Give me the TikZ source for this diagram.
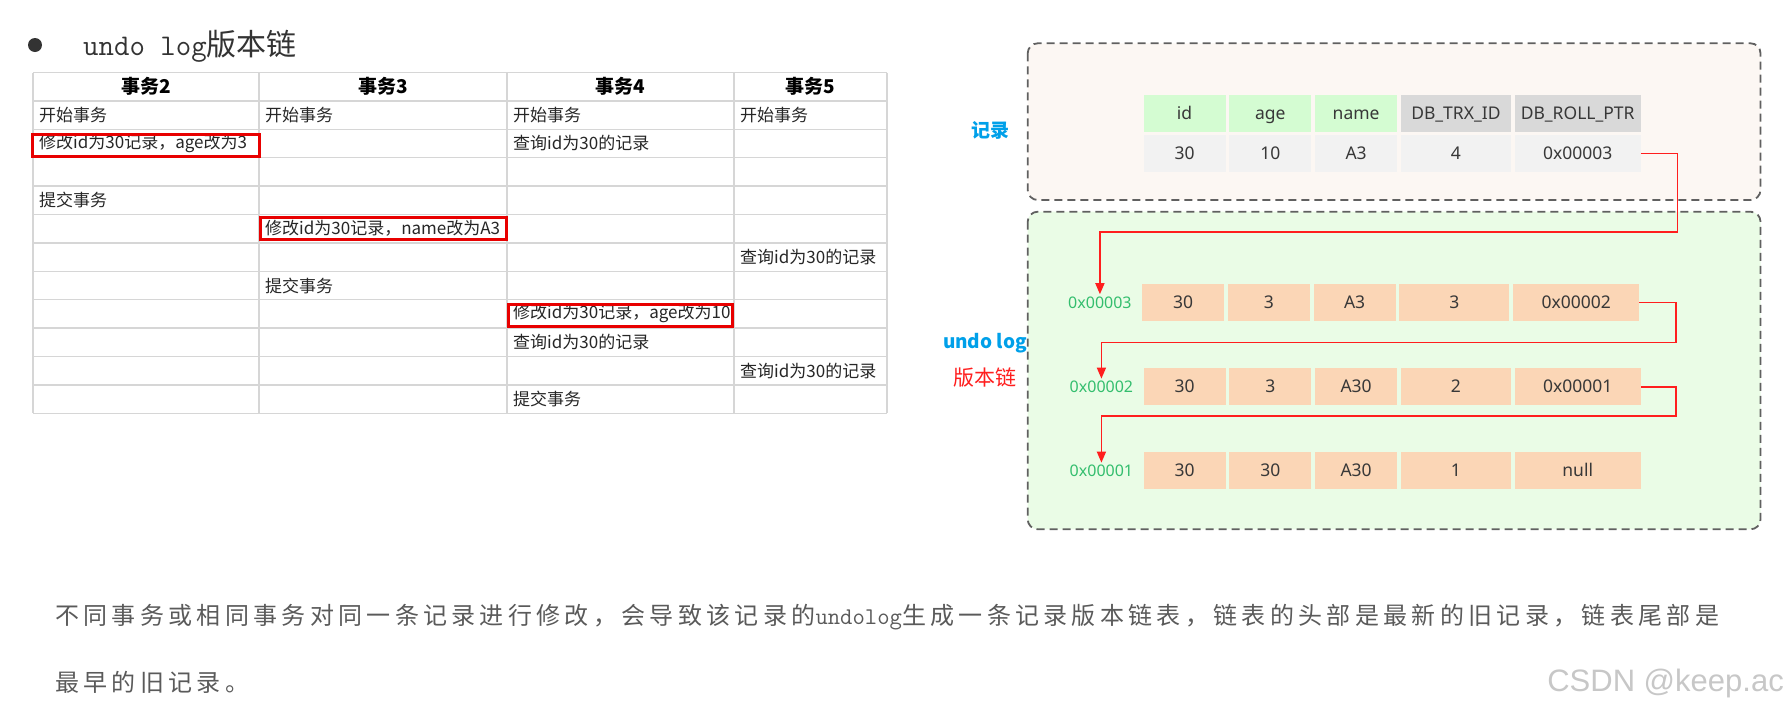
\documentclass[tikz,border=0pt]{standalone}
\usepackage{fontspec}
\setmainfont{Noto Sans CJK SC}
\newfontfamily\cellft{Noto Sans}
\newfontfamily\paraft[LetterSpace=18]{Noto Sans CJK SC}
\newfontfamily\markft{Liberation Sans}
\usepackage{tikz}
\usetikzlibrary{positioning,arrows.meta}
\definecolor{gridgray}{RGB}{214,214,214}
\definecolor{markred}{RGB}{232,0,0}
\definecolor{recfill}{RGB}{252,247,243}
\definecolor{logfill}{RGB}{234,252,230}
\definecolor{keygreen}{RGB}{212,252,210}
\definecolor{sysgray}{RGB}{217,217,217}
\definecolor{valgray}{RGB}{242,242,242}
\definecolor{oldpeach}{RGB}{251,214,182}
\definecolor{addrgreen}{RGB}{52,190,110}
\definecolor{labelblue}{RGB}{0,160,233}
\definecolor{chainred}{RGB}{255,30,30}
\definecolor{boxgray}{RGB}{96,96,96}
\definecolor{titlegray}{RGB}{51,51,51}
\definecolor{paragray}{RGB}{90,90,90}

\begin{document}
\begin{tikzpicture}[x=1pt, y=-1pt, >={Triangle[length=11pt,width=9pt]},
    txt/.style={anchor=west, inner sep=0pt, text=black!85, font=\fontsize{17}{20}\selectfont},
    hdr/.style={inner sep=0pt, font=\fontsize{19}{22}\selectfont\bfseries},
    hilite/.style={markred, line width=3pt},
    dashbox/.style={boxgray, line width=1.8pt, dash pattern=on 8pt off 5pt, rounded corners=10pt},
    cell/.style={minimum width=82pt, minimum height=36.7pt, inner sep=0pt, text height=15.5pt, text depth=3pt, text=black!78, font=\cellft\fontsize{17.5}{21}\selectfont},
    wide/.style={minimum width=110pt},
    wider/.style={minimum width=126pt},
    addr/.style={inner sep=2pt, text=addrgreen, font=\cellft\fontsize{16}{20}\selectfont},
    chain/.style={->, chainred, line width=1.6pt},
    para/.style={anchor=west, inner sep=0pt, text=paragray, font=\paraft\fontsize{24}{28}\selectfont}]
    \useasboundingbox (0,0) rectangle (1790,710);

    % title
    \fill[titlegray] (35,45) circle (7pt);
    \node[anchor=base west, inner sep=0pt, text=titlegray, font=\fontsize{30}{34}\selectfont] (ttl) at (83,55) {{\ttfamily undo log}版本链};

    % transaction table
    \foreach \k in {0,...,12}
        \draw[gridgray, line width=1.4pt] (33,{72.5+28.4*\k}) -- (887,{72.5+28.4*\k});
    \foreach \c in {33,259,507,734,887}
        \draw[gridgray, line width=1.4pt] (\c,72.5) -- (\c,413.3);
    \node[hdr] (t2) at (146,86.7) {事务2};
    \node[hdr] (t3) at (383,86.7) {事务3};
    \node[hdr] (t4) at (620.5,86.7) {事务4};
    \node[hdr] (t5) at (810.5,86.7) {事务5};
    \node[txt] (s2) at (39,115.1) {开始事务};
    \node[txt] (s3) at (265,115.1) {开始事务};
    \node[txt] (s4) at (513,115.1) {开始事务};
    \node[txt] (s5) at (740,115.1) {开始事务};
    \node[txt] (m2) at (39,143.5) {修改id为30记录，age改为3};
    \node[txt] (q4a) at (513,143.5) {查询id为30的记录};
    \node[txt] (c2) at (39,200.3) {提交事务};
    \node[txt] (m3) at (265,228.7) {修改id为30记录，name改为A3};
    \node[txt] (q5a) at (740,257.1) {查询id为30的记录};
    \node[txt] (c3) at (265,285.5) {提交事务};
    \node[txt] (m4) at (513,313.9) {修改id为30记录，age改为10};
    \node[txt] (q4b) at (513,342.3) {查询id为30的记录};
    \node[txt] (q5b) at (740,370.7) {查询id为30的记录};
    \node[txt] (c4) at (513,399.1) {提交事务};
    \draw[hilite] (32.2,134) rectangle (259.8,156.2);
    \draw[hilite] (260.8,217.5) rectangle (506.5,239.2);
    \draw[hilite] (508.2,304.2) rectangle (732.5,326.8);

    % record and undo log
    \draw[dashbox, fill=recfill] (1027.7,43.3) rectangle (1760.5,200);
    \draw[dashbox, fill=logfill] (1027.7,211.7) rectangle (1760.5,529.3);
    \node[font=\fontsize{19}{22}\selectfont\bfseries, text=labelblue] (lrec) at (990,130) {记录};
    \node[font=\fontsize{19}{22}\selectfont\bfseries, text=labelblue] (lundo) at (985,343) {undo log};
    \node[font=\fontsize{21}{24}\selectfont, text=chainred] (lchain) at (985,378) {版本链};

    \node[cell, fill=keygreen] (hid) at (1184.5,113.3) {id};
    \node[cell, fill=keygreen, right=3.4pt of hid] (hage) {age};
    \node[cell, fill=keygreen, right=3.4pt of hage] (hname) {name};
    \node[cell, wide, fill=sysgray, right=3.4pt of hname] (htrx) {DB\_TRX\_ID};
    \node[cell, wider, fill=sysgray, right=3.4pt of htrx] (hptr) {DB\_ROLL\_PTR};
    \node[cell, fill=valgray] (rid) at (1184.5,153.3) {30};
    \node[cell, fill=valgray, right=3.4pt of rid] (rage) {10};
    \node[cell, fill=valgray, right=3.4pt of rage] (rname) {A3};
    \node[cell, wide, fill=valgray, right=3.4pt of rname] (rtrx) {4};
    \node[cell, wider, fill=valgray, right=3.4pt of rtrx] (rptr) {0x00003};

    \node[cell, fill=oldpeach] (u3a) at (1183,302.3) {30};
    \node[cell, fill=oldpeach, right=3.4pt of u3a] (u3b) {3};
    \node[cell, fill=oldpeach, right=3.4pt of u3b] (u3c) {A3};
    \node[cell, wide, fill=oldpeach, right=3.4pt of u3c] (u3d) {3};
    \node[cell, wider, fill=oldpeach, right=3.4pt of u3d] (u3e) {0x00002};
    \node[addr, left=8pt of u3a] (adr3) {0x00003};

    \node[cell, fill=oldpeach] (u2a) at (1184.5,386.7) {30};
    \node[cell, fill=oldpeach, right=3.4pt of u2a] (u2b) {3};
    \node[cell, fill=oldpeach, right=3.4pt of u2b] (u2c) {A30};
    \node[cell, wide, fill=oldpeach, right=3.4pt of u2c] (u2d) {2};
    \node[cell, wider, fill=oldpeach, right=3.4pt of u2d] (u2e) {0x00001};
    \node[addr, left=8pt of u2a] (adr2) {0x00002};

    \node[cell, fill=oldpeach] (u1a) at (1184.5,470.7) {30};
    \node[cell, fill=oldpeach, right=3.4pt of u1a] (u1b) {30};
    \node[cell, fill=oldpeach, right=3.4pt of u1b] (u1c) {A30};
    \node[cell, wide, fill=oldpeach, right=3.4pt of u1c] (u1d) {1};
    \node[cell, wider, fill=oldpeach, right=3.4pt of u1d] (u1e) {null};
    \node[addr, left=8pt of u1a] (adr1) {0x00001};

    \coordinate (k3) at (1677.5,231.7);
    \coordinate (k2) at (1676,342.3);
    \coordinate (k1) at (1676,415.7);
    \draw[chain] (rptr.east) -| (k3) -| (adr3.north);
    \draw[chain] (u3e.east) -| (k2) -| (adr2.north);
    \draw[chain] (u2e.east) -| (k1) -| (adr1.north);

    % note below
    \node[para] (p1) at (55,617) {不同事务或相同事务对同一条记录进行修改，会导致该记录的{\ttfamily undolog}生成一条记录版本链表，链表的头部是最新的旧记录，链表尾部是};
    \node[para] (p2) at (55,682) {最早的旧记录。};
    \node[anchor=east, inner sep=0pt, text=black!22, font=\markft\fontsize{31}{36}\selectfont] (wm) at (1784,683) {CSDN @keep.ac};
\end{tikzpicture}
\end{document}
